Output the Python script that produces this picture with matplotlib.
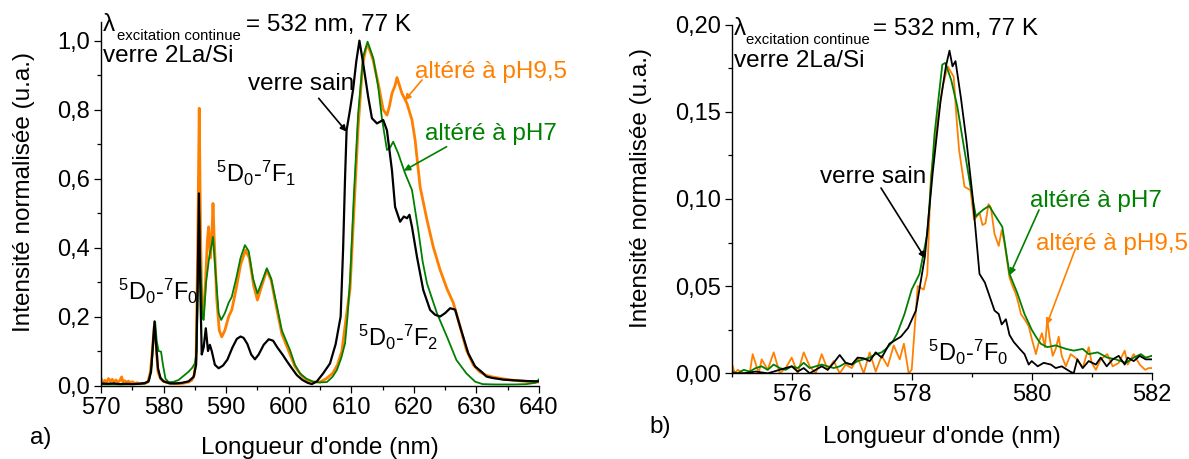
import matplotlib
matplotlib.use("Agg")
import matplotlib.pyplot as plt
from matplotlib.ticker import MultipleLocator, FuncFormatter

plt.rcParams['font.family'] = ['Liberation Sans', 'DejaVu Sans']
plt.rcParams['mathtext.fontset'] = 'custom'
plt.rcParams['mathtext.rm'] = 'Liberation Sans'
plt.rcParams['mathtext.it'] = 'Liberation Sans:italic'
plt.rcParams['mathtext.bf'] = 'Liberation Sans:bold'

# ---------------- data: panel a) (570-640 nm) ----------------
wl_sain_a = [570.0, 571.0, 572.0, 573.0, 574.0, 575.0, 576.0, 577.0, 577.6, 578.0, 578.3, 578.55, 578.8, 579.1,
             579.5, 580.0, 581.0, 582.0, 583.0, 584.0, 584.8, 585.2, 585.45, 585.65, 585.85, 586.1, 586.4, 586.75,
             587.1, 587.4, 587.7, 588.2, 588.8, 589.5, 590.2, 591.0, 591.7, 592.3, 592.8, 593.4, 594.0, 594.6,
             595.2, 596.0, 596.8, 597.5, 598.2, 599.0, 599.8, 600.5, 601.3, 602.2, 603.0, 603.7, 604.5, 605.5,
             606.6, 607.5, 608.3, 608.7, 609.0, 609.25, 609.8, 610.3, 610.8, 611.3, 611.9, 612.7, 613.3, 614.1,
             615.1, 615.7, 616.5, 617.0, 617.8, 618.4, 618.9, 619.3, 619.7, 620.5, 621.5, 622.6, 623.4, 624.2,
             625.0, 625.8, 626.6, 627.4, 628.7, 629.8, 630.8, 631.6, 632.5, 634.3, 636.0, 638.0, 640.0]
int_sain_a = [0.006, 0.005, 0.006, 0.004, 0.005, 0.004, 0.005, 0.007, 0.012, 0.04, 0.12, 0.186, 0.12, 0.05,
              0.022, 0.012, 0.006, 0.006, 0.008, 0.012, 0.025, 0.06, 0.30, 0.557, 0.30, 0.09, 0.11, 0.166,
              0.10, 0.118, 0.10, 0.06, 0.05, 0.058, 0.075, 0.11, 0.135, 0.142, 0.138, 0.12, 0.09, 0.076,
              0.09, 0.118, 0.134, 0.13, 0.11, 0.09, 0.068, 0.05, 0.03, 0.016, 0.008, 0.004, 0.012, 0.035,
              0.064, 0.12, 0.20, 0.40, 0.60, 0.74, 0.80, 0.86, 0.94, 1.0, 0.934, 0.837, 0.775, 0.76,
              0.77, 0.74, 0.624, 0.518, 0.475, 0.49, 0.485, 0.495, 0.46, 0.373, 0.277, 0.219, 0.205, 0.20,
              0.21, 0.224, 0.22, 0.17, 0.093, 0.055, 0.04, 0.026, 0.022, 0.017, 0.015, 0.013, 0.012]

wl_ph7_a = [570.0, 572.0, 574.0, 576.0, 577.0, 577.7, 578.1, 578.4, 578.65, 578.9, 579.2, 579.6, 579.9, 580.3,
            580.8, 581.5, 582.4, 583.2, 584.0, 584.6, 585.0, 585.3, 585.5, 585.7, 585.9, 586.2, 586.4, 586.8,
            587.3, 587.6, 587.9, 588.3, 588.8, 589.2, 589.8, 590.4, 590.9, 591.6, 592.3, 593.0, 593.6, 594.3,
            595.0, 595.7, 596.5, 597.2, 598.0, 598.9, 600.2, 601.0, 601.8, 602.8, 603.9, 605.0, 606.1, 607.0,
            607.7, 608.4, 609.0, 609.4, 609.8, 610.4, 611.1, 611.9, 612.6, 613.5, 614.3, 614.9, 615.7, 616.2,
            616.7, 617.5, 618.6, 619.7, 620.7, 621.4, 622.1, 623.7, 625.3, 626.8, 628.4, 629.8, 631.0, 633.0,
            636.0, 638.0, 639.5, 640.0]
int_ph7_a = [0.003, 0.003, 0.003, 0.004, 0.006, 0.015, 0.06, 0.14, 0.185, 0.13, 0.10, 0.098, 0.06, 0.02,
             0.01, 0.01, 0.016, 0.028, 0.04, 0.052, 0.064, 0.10, 0.30, 0.50, 0.35, 0.20, 0.19, 0.30,
             0.373, 0.40, 0.431, 0.33, 0.21, 0.19, 0.21, 0.24, 0.257, 0.31, 0.37, 0.407, 0.39, 0.31,
             0.267, 0.30, 0.34, 0.31, 0.24, 0.16, 0.103, 0.06, 0.035, 0.02, 0.011, 0.009, 0.01, 0.025,
             0.045, 0.08, 0.122, 0.20, 0.306, 0.547, 0.789, 0.953, 0.997, 0.95, 0.866, 0.774, 0.683, 0.69,
             0.707, 0.673, 0.615, 0.567, 0.451, 0.36, 0.296, 0.209, 0.141, 0.074, 0.035, 0.011, 0.004, 0.003,
             0.003, 0.004, 0.008, 0.018]

wl_ph95_a = [570.0, 570.3, 570.6, 570.9, 571.2, 571.5, 571.8, 572.1, 572.4, 572.7, 573.0, 573.3, 573.5, 573.8,
             574.1, 574.4, 574.7, 575.0, 575.4, 575.8, 576.2, 576.6, 577.0, 577.5, 577.9, 578.2, 578.5, 578.8,
             579.1, 579.5, 580.0, 580.5, 581.0, 581.5, 582.0, 582.5, 583.0, 583.5, 584.0, 584.5, 584.9, 585.2,
             585.45, 585.7, 585.9, 586.1, 586.35, 586.7, 587.0, 587.2, 587.5, 587.75, 587.9, 588.1, 588.5, 588.9,
             589.3, 589.8, 590.4, 590.9, 591.6, 592.3, 593.1, 593.7, 594.4, 595.0, 595.7, 596.5, 597.2, 598.0,
             598.9, 600.0, 601.0, 602.0, 603.0, 604.0, 605.0, 606.0, 607.0, 607.8, 608.5, 609.2, 609.8, 610.4,
             611.1, 611.8, 612.3, 612.6, 613.0, 613.5, 614.3, 615.1, 615.7, 616.1, 616.5, 617.0, 617.3, 617.7,
             618.1, 618.9, 619.7, 620.2, 621.0, 622.1, 623.1, 624.2, 625.3, 626.3, 627.4, 628.4, 629.5, 630.5,
             631.5, 632.5, 634.0, 636.0, 638.0, 640.0]
int_ph95_a = [0.02, 0.008, 0.015, 0.01, 0.02, 0.012, 0.018, 0.01, 0.016, 0.009, 0.014, 0.025, 0.01, 0.014,
              0.009, 0.013, 0.007, 0.011, 0.006, 0.008, 0.005, 0.006, 0.006, 0.01, 0.04, 0.10, 0.17, 0.12,
              0.04, 0.02, 0.012, 0.009, 0.007, 0.006, 0.006, 0.005, 0.006, 0.008, 0.01, 0.015, 0.03, 0.08,
              0.40, 0.804, 0.45, 0.25, 0.20, 0.30, 0.42, 0.46, 0.37, 0.45, 0.528, 0.42, 0.25, 0.16,
              0.141, 0.16, 0.20, 0.219, 0.28, 0.35, 0.393, 0.37, 0.29, 0.248, 0.29, 0.335, 0.305, 0.23,
              0.15, 0.10, 0.055, 0.03, 0.015, 0.01, 0.01, 0.02, 0.035, 0.06, 0.10, 0.20, 0.28, 0.50,
              0.75, 0.93, 0.975, 0.99, 0.97, 0.943, 0.876, 0.80, 0.784, 0.81, 0.847, 0.87, 0.893, 0.87,
              0.847, 0.818, 0.77, 0.712, 0.576, 0.48, 0.402, 0.335, 0.28, 0.24, 0.17, 0.103, 0.06, 0.04,
              0.03, 0.025, 0.02, 0.015, 0.012, 0.01]

# ---------------- data: panel b) (575-582 nm) ----------------
wl_sain_b = [575.0, 575.2, 575.4, 575.6, 575.8, 576.0, 576.1, 576.2, 576.3, 576.4, 576.5, 576.6, 576.7, 576.8,
             576.9, 577.0, 577.1, 577.2, 577.3, 577.4, 577.5, 577.63, 577.82, 577.94, 578.07, 578.22, 578.35,
             578.48, 578.57, 578.63, 578.68, 578.73, 578.82, 578.91, 579.01, 579.07, 579.13, 579.22, 579.32,
             579.38, 579.45, 579.5, 579.57, 579.63, 579.70, 579.8, 579.88, 579.95, 580.0, 580.1, 580.2, 580.32,
             580.4, 580.5, 580.64, 580.7, 580.76, 580.85, 580.95, 581.07, 581.15, 581.25, 581.35, 581.45,
             581.55, 581.6, 581.7, 581.8, 581.9, 582.0]
int_sain_b = [0.0, 0.0, 0.001, 0.0, 0.002, 0.004, 0.001, 0.003, 0.0, 0.002, 0.004, 0.002, 0.006, 0.0105,
              0.006, 0.005, 0.009, 0.0086, 0.007, 0.012, 0.009, 0.017, 0.021, 0.026, 0.036, 0.067, 0.115,
              0.156, 0.176, 0.185, 0.176, 0.179, 0.158, 0.134, 0.103, 0.080, 0.057, 0.052, 0.042,
              0.036, 0.034, 0.028, 0.031, 0.022, 0.018, 0.014, 0.011, 0.005, 0.007, 0.004, 0.006, 0.005,
              0.003, 0.004, 0.001, 0.0, 0.008, 0.003, 0.007, 0.005, 0.009, 0.004, 0.008, 0.01,
              0.005, 0.009, 0.007, 0.01, 0.008, 0.008]

wl_ph7_b = [575.0, 575.1, 575.2, 575.3, 575.4, 575.5, 575.6, 575.7, 575.8, 575.9, 576.0, 576.1, 576.2, 576.3,
            576.4, 576.5, 576.6, 576.7, 576.8, 576.9, 577.0, 577.1, 577.2, 577.3, 577.4, 577.5, 577.57, 577.68,
            577.76, 577.88, 578.0, 578.13, 578.26, 578.38, 578.51, 578.56, 578.66, 578.76, 578.85, 578.98,
            579.07, 579.13, 579.2, 579.29, 579.38, 579.51, 579.63, 579.76, 579.88, 580.0, 580.07, 580.15,
            580.26, 580.4, 580.57, 580.7, 580.85, 580.95, 581.1, 581.26, 581.4, 581.57, 581.7, 581.82, 581.9,
            582.0]
int_ph7_b = [0.001, 0.0, 0.002, 0.001, 0.003, 0.004, 0.002, 0.005, 0.003, 0.002, 0.004, 0.003, 0.006, 0.003,
             0.004, 0.005, 0.004, 0.003, 0.004, 0.006, 0.005, 0.007, 0.008, 0.009, 0.011, 0.012, 0.014, 0.018,
             0.023, 0.034, 0.048, 0.057, 0.080, 0.137, 0.177, 0.178, 0.168, 0.153, 0.134, 0.107,
             0.090, 0.092, 0.094, 0.096, 0.091, 0.084, 0.057, 0.046, 0.034, 0.025, 0.021, 0.017,
             0.015, 0.016, 0.014, 0.013, 0.014, 0.011, 0.012, 0.009, 0.008, 0.006, 0.009, 0.011, 0.009,
             0.010]

wl_ph95_b = [575.0, 575.05, 575.1, 575.2, 575.3, 575.35, 575.45, 575.5, 575.6, 575.7, 575.8, 575.9, 576.0,
             576.1, 576.2, 576.3, 576.4, 576.5, 576.6, 576.7, 576.8, 576.9, 577.0, 577.1, 577.2, 577.3, 577.4,
             577.5, 577.6, 577.7, 577.8, 577.87, 577.95, 578.0, 578.1, 578.2, 578.26, 578.32, 578.44, 578.52,
             578.6, 578.7, 578.75, 578.79, 578.88, 578.98, 579.04, 579.13, 579.18, 579.23, 579.28, 579.32,
             579.38, 579.45, 579.5, 579.54, 579.63, 579.68, 579.73, 579.78, 579.82, 579.9, 579.95, 580.0,
             580.07, 580.12, 580.17, 580.22, 580.26, 580.3, 580.35, 580.4, 580.45, 580.5, 580.57, 580.65,
             580.76, 580.85, 580.95, 581.0, 581.07, 581.15, 581.26, 581.35, 581.45, 581.55, 581.6, 581.7,
             581.8, 581.89, 581.95, 582.0]
int_ph95_b = [0.006, 0.0, 0.002, 0.0, 0.0, 0.011, 0.0, 0.008, 0.002, 0.012, 0.0, 0.003, 0.009,
              0.0, 0.012, 0.004, 0.0, 0.011, 0.002, 0.007, 0.0, 0.005, 0.003, 0.009, 0.0, 0.012, 0.001,
              0.01, 0.004, 0.016, 0.008, 0.017, 0.0, 0.002, 0.05, 0.048, 0.057, 0.113, 0.147, 0.165,
              0.176, 0.170, 0.145, 0.128, 0.107, 0.105, 0.088, 0.092, 0.085, 0.086, 0.097, 0.095,
              0.080, 0.073, 0.082, 0.076, 0.055, 0.05, 0.046, 0.04, 0.034, 0.03, 0.027, 0.02,
              0.011, 0.018, 0.023, 0.015, 0.031, 0.02, 0.010, 0.014, 0.021, 0.01, 0.004, 0.011,
              0.008, 0.003, 0.015, 0.006, 0.002, 0.008, 0.011, 0.004, 0.006, 0.013, 0.005, 0.011,
              0.005, 0.002, 0.003, 0.003]

C_SAIN = '#000000'
C_PH7 = '#008000'
C_PH95 = '#FF8000'

W, H = 1189, 459
fig = plt.figure(figsize=(W / 100, H / 100), dpi=100)


def F(px, py):
    return (px / W, 1 - py / H)


FS = 17.5
FS_TICK = 17
FS_SUB = 10.7
FS_BIG = 17


def style_axes(ax):
    for s in ('top', 'right'):
        ax.spines[s].set_visible(False)
    for s in ('left', 'bottom'):
        ax.spines[s].set_linewidth(1.0)
    ax.tick_params(which='major', direction='out', length=5, width=0.9, labelsize=FS_TICK, pad=3)
    ax.tick_params(which='minor', direction='out', length=3, width=0.9)


# ---------------- panel a ----------------
axa = fig.add_axes([101 / W, (H - 385.5) / H, 438 / W, 363.8 / H])
axa.plot(wl_ph95_a, int_ph95_a, color=C_PH95, lw=2.0)
axa.plot(wl_ph7_a, int_ph7_a, color=C_PH7, lw=1.3)
axa.plot(wl_sain_a, int_sain_a, color=C_SAIN, lw=1.6)
axa.set_xlim(570, 640)
axa.set_ylim(0, 1.055)
axa.xaxis.set_major_locator(MultipleLocator(10))
axa.xaxis.set_minor_locator(MultipleLocator(5))
axa.yaxis.set_major_locator(MultipleLocator(0.2))
axa.yaxis.set_minor_locator(MultipleLocator(0.1))
axa.yaxis.set_major_formatter(FuncFormatter(lambda v, p: f"{v:.1f}".replace('.', ',')))
style_axes(axa)
axa.set_xlabel("Longueur d'onde (nm)", fontsize=FS)
axa.xaxis.label.set_va('baseline')
axa.xaxis.set_label_coords(0.5, (385.5 - 454) / 363.8)
axa.set_ylabel("Intensité normalisée (u.a.)", fontsize=FS)
axa.yaxis.label.set_va('baseline')
axa.yaxis.set_label_coords((29.8 - 101) / 438, (385.5 - 192) / 363.8)

# ---------------- panel b ----------------
axb = fig.add_axes([731.7 / W, (H - 373.3) / H, 420 / W, 348.8 / H])
axb.plot(wl_ph95_b, int_ph95_b, color=C_PH95, lw=1.3)
axb.plot(wl_ph7_b, int_ph7_b, color=C_PH7, lw=1.3)
axb.plot(wl_sain_b, int_sain_b, color=C_SAIN, lw=1.3)
axb.set_xlim(575, 582)
axb.set_ylim(0, 0.20)
axb.xaxis.set_major_locator(MultipleLocator(2))
axb.xaxis.set_minor_locator(MultipleLocator(1))
axb.yaxis.set_major_locator(MultipleLocator(0.05))
axb.yaxis.set_minor_locator(MultipleLocator(0.025))
axb.yaxis.set_major_formatter(FuncFormatter(lambda v, p: f"{v:.2f}".replace('.', ',')))
style_axes(axb)
axb.set_xlabel("Longueur d'onde (nm)", fontsize=FS)
axb.xaxis.label.set_va('baseline')
axb.xaxis.set_label_coords(0.5, (373.3 - 443.4) / 348.8)
axb.set_ylabel("Intensité normalisée (u.a.)", fontsize=FS)
axb.yaxis.label.set_va('baseline')
axb.yaxis.set_label_coords((647 - 731.7) / 420, (373.3 - 187.5) / 348.8)


def txt(px, py, s, color='black', size=FS):
    fig.text(*F(px, py), s, color=color, fontsize=size, va='baseline', ha='left')


def arrow(tail, tip, color):
    fig.add_artist(matplotlib.patches.FancyArrowPatch(
        F(*tail), F(*tip), transform=fig.transFigure, arrowstyle='-|>',
        mutation_scale=9, color=color, lw=1.2, shrinkA=0, shrinkB=0))


def transition(px, py, last):
    s = r'$\mathregular{^{5}D_{0}}$-$\mathregular{^{7}F_{' + last + r'}}$'
    txt(px, py, s, size=FS_BIG)


# panel a texts
txt(103, 31, 'λ')
txt(117, 39.5, 'excitation continue', size=FS_SUB)
txt(246, 31, '= 532 nm, 77 K')
txt(103, 62, 'verre 2La/Si')
txt(248, 90, 'verre sain')
txt(415, 78.3, 'altéré à pH9,5', color=C_PH95)
txt(425, 140, 'altéré à pH7', color=C_PH7)
transition(216.5, 181.7, '1')
transition(118.5, 299.5, '0')
transition(358.3, 346.5, '2')
txt(30, 444, 'a)')
arrow((318.7, 98.3), (346.6, 131.7), C_SAIN)
arrow((422, 80), (404.6, 100.5), C_PH95)
arrow((446.6, 146.7), (403.8, 170.7), C_PH7)

# panel b texts
txt(733.5, 35, 'λ')
txt(745.9, 44.3, 'excitation continue', size=FS_SUB)
txt(872.6, 35, '= 532 nm, 77 K')
txt(733.5, 66.7, 'verre 2La/Si')
txt(820, 182.7, 'verre sain')
txt(1030.5, 206.7, 'altéré à pH7', color=C_PH7)
txt(1036, 250, 'altéré à pH9,5', color=C_PH95)
transition(928.5, 361, '0')
txt(649, 433, 'b)')
arrow((881, 188), (925.2, 258.3), C_SAIN)
arrow((1039, 210), (1009.8, 275), C_PH7)
arrow((1075.6, 248.3), (1046.6, 325), C_PH95)

fig.savefig('out.png', dpi=100)
